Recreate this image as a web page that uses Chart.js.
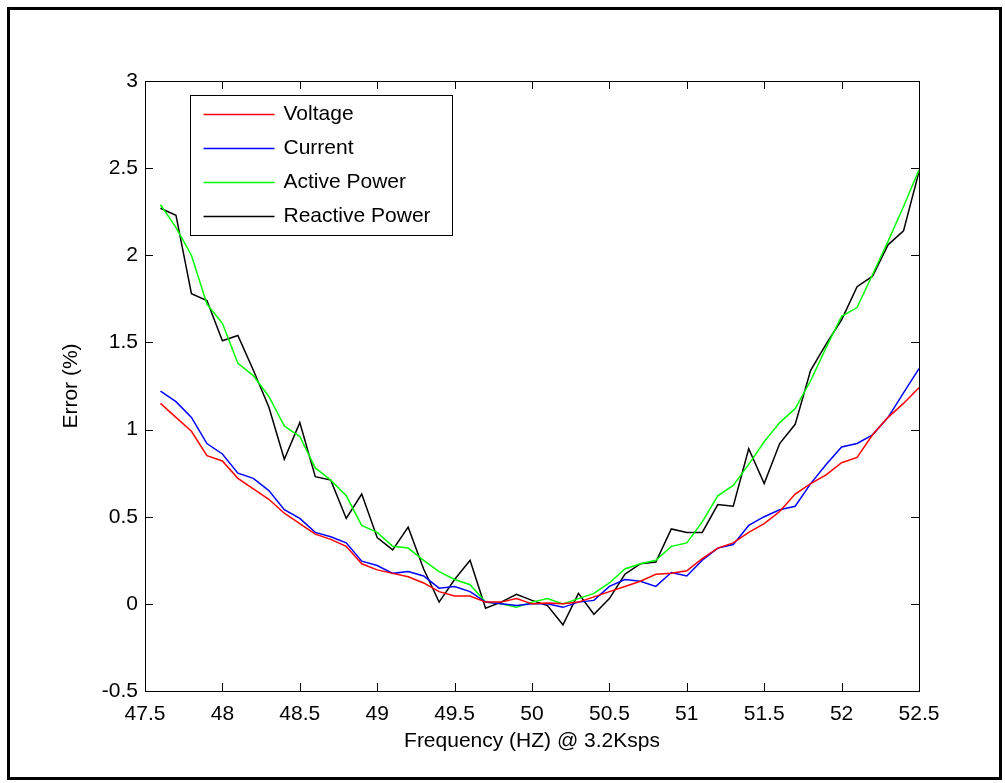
<!DOCTYPE html>
<html>
<head>
<meta charset="utf-8">
<title>Frequency error</title>
<script src="https://cdn.jsdelivr.net/npm/chart.js@4/dist/chart.umd.min.js"></script>
<style>
  html, body { margin: 0; padding: 0; background: #fff; }
  #wrap { width: 1005px; height: 783px; position: relative; }
</style>
</head>
<body>
<div id="wrap"><canvas id="errChart" width="1005" height="783"></canvas></div>
<script>
/* ============================================================
   Error (%) vs grid frequency, sampled at 3.2 ksps
   ============================================================ */

const freq = [
  47.6, 47.7, 47.8, 47.9,
  48.0, 48.1, 48.2, 48.3, 48.4, 48.5, 48.6, 48.7, 48.8, 48.9,
  49.0, 49.1, 49.2, 49.3, 49.4, 49.5, 49.6, 49.7, 49.8, 49.9,
  50.0, 50.1, 50.2, 50.3, 50.4, 50.5, 50.6, 50.7, 50.8, 50.9,
  51.0, 51.1, 51.2, 51.3, 51.4, 51.5, 51.6, 51.7, 51.8, 51.9,
  52.0, 52.1, 52.2, 52.3, 52.4, 52.5
];

const voltageErr = [
  1.15, 1.07, 0.99, 0.85,
  0.82, 0.72, 0.66, 0.60, 0.52, 0.46, 0.40, 0.37, 0.33, 0.23,
  0.195, 0.175, 0.155, 0.12, 0.07, 0.045, 0.045, 0.01, 0.01, 0.03,
  0.00, 0.005, 0.00, 0.01, 0.04, 0.07, 0.10, 0.13, 0.17, 0.175,
  0.19, 0.26, 0.32, 0.35, 0.41, 0.46, 0.53, 0.63, 0.69, 0.74,
  0.81, 0.84, 0.97, 1.07, 1.15, 1.24
];

const currentErr = [
  1.22, 1.16, 1.07, 0.92,
  0.86, 0.75, 0.72, 0.65, 0.54, 0.49, 0.41, 0.385, 0.35, 0.245,
  0.22, 0.175, 0.185, 0.16, 0.09, 0.10, 0.07, 0.01, 0.00, -0.01,
  0.00, 0.00, -0.02, 0.01, 0.02, 0.10, 0.14, 0.13, 0.10, 0.18,
  0.16, 0.25, 0.32, 0.34, 0.45, 0.50, 0.54, 0.56, 0.69, 0.80,
  0.90, 0.92, 0.97, 1.07, 1.21, 1.35
];

const activeErr = [
  2.29, 2.16, 2.00, 1.72,
  1.61, 1.38, 1.31, 1.19, 1.02, 0.96, 0.78, 0.71, 0.62, 0.45,
  0.41, 0.33, 0.32, 0.25, 0.185, 0.14, 0.11, 0.01, 0.00, -0.02,
  0.01, 0.03, 0.00, 0.03, 0.06, 0.12, 0.20, 0.23, 0.25, 0.33,
  0.35, 0.47, 0.62, 0.68, 0.80, 0.93, 1.04, 1.12, 1.28, 1.47,
  1.65, 1.70, 1.89, 2.08, 2.28, 2.49
];

const reactiveErr = [
  2.27, 2.23, 1.78, 1.74,
  1.51, 1.54, 1.34, 1.13, 0.83, 1.04, 0.73, 0.71, 0.49, 0.63,
  0.38, 0.31, 0.44, 0.20, 0.01, 0.14, 0.25, -0.025, 0.01, 0.055,
  0.02, -0.01, -0.12, 0.06, -0.06, 0.03, 0.17, 0.23, 0.24, 0.43,
  0.41, 0.41, 0.57, 0.56, 0.89, 0.69, 0.92, 1.03, 1.34, 1.49,
  1.63, 1.82, 1.88, 2.06, 2.14, 2.48
];

const xTicks = [47.5, 48, 48.5, 49, 49.5, 50, 50.5, 51, 51.5, 52, 52.5];
const yTicks = [-0.5, 0, 0.5, 1, 1.5, 2, 2.5, 3];

const FONT = 'Liberation Sans, Arial, sans-serif';

const pairs = ys => freq.map((f, i) => ({ x: f, y: ys[i] }));

const series = [
  { label: 'Voltage',        data: voltageErr,  color: '#ff0000' },
  { label: 'Current',        data: currentErr,  color: '#0000ff' },
  { label: 'Active Power',   data: activeErr,   color: '#00ff00' },
  { label: 'Reactive Power', data: reactiveErr, color: '#000000' },
];

// outer figure frame, axes box with inward ticks on all four sides
const boxPlugin = {
  id: 'box',
  beforeDraw(chart) {
    const { ctx, width, height } = chart;
    ctx.save();
    ctx.fillStyle = '#fff';
    ctx.fillRect(0, 0, width, height);
    ctx.strokeStyle = '#000';
    ctx.lineWidth = 3;
    ctx.strokeRect(8.5, 8.5, width - 13, height - 13);
    ctx.restore();
  },
  afterDraw(chart) {
    const { ctx, chartArea: a, scales } = chart;
    const len = 8;
    ctx.save();
    ctx.strokeStyle = '#000';
    ctx.lineWidth = 1;
    ctx.beginPath();
    scales.x.ticks.forEach(t => {
      const px = Math.round(scales.x.getPixelForValue(t.value)) + 0.5;
      ctx.moveTo(px, a.bottom); ctx.lineTo(px, a.bottom - len);
      ctx.moveTo(px, a.top);    ctx.lineTo(px, a.top + len);
    });
    scales.y.ticks.forEach(t => {
      const py = Math.round(scales.y.getPixelForValue(t.value)) + 0.5;
      ctx.moveTo(a.left, py);  ctx.lineTo(a.left + len, py);
      ctx.moveTo(a.right, py); ctx.lineTo(a.right - len, py);
    });
    ctx.stroke();
    ctx.strokeRect(Math.round(a.left) + 0.5, Math.round(a.top) + 0.5,
                   Math.round(a.right - a.left), Math.round(a.bottom - a.top));
    ctx.restore();
  }
};

// legend box in the upper left of the axes
const legendPlugin = {
  id: 'boxLegend',
  afterDatasetsDraw(chart) {
    const { ctx, chartArea: a } = chart;
    const bx = Math.round(a.left + 45) + 0.5, by = Math.round(a.top + 14) + 0.5;
    const bw = 262, bh = 140, rowH = 34;
    ctx.save();
    ctx.fillStyle = '#fff';
    ctx.fillRect(bx, by, bw, bh);
    ctx.strokeStyle = '#000';
    ctx.lineWidth = 1;
    ctx.strokeRect(bx, by, bw, bh);
    ctx.font = '21px ' + FONT;
    ctx.textBaseline = 'middle';
    chart.data.datasets.forEach((ds, i) => {
      const y = by + 19 + i * rowH;
      ctx.strokeStyle = ds.borderColor;
      ctx.lineWidth = 1.5;
      ctx.beginPath();
      ctx.moveTo(bx + 13, y); ctx.lineTo(bx + 84, y);
      ctx.stroke();
      ctx.fillStyle = '#000';
      ctx.fillText(ds.label, bx + 93, y);
    });
    ctx.restore();
  }
};

const fmtTick = v => String(Math.round(v * 10) / 10);

new Chart(document.getElementById('errChart'), {
  type: 'line',
  data: {
    datasets: series.map(s => ({
      label: s.label,
      data: pairs(s.data),
      borderColor: s.color,
      backgroundColor: s.color,
      borderWidth: 1.5,
      pointRadius: 0,
      tension: 0,
      fill: false,
    }))
  },
  options: {
    responsive: false,
    animation: false,
    devicePixelRatio: 1,
    layout: { padding: { left: 10, top: 81, right: 86, bottom: 20 } },
    plugins: { legend: { display: false }, tooltip: { enabled: false } },
    scales: {
      x: {
        type: 'linear',
        min: 47.5, max: 52.5,
        afterBuildTicks: sc => { sc.ticks = xTicks.map(v => ({ value: v })); },
        afterFit: sc => { sc.height = 72; },
        grid: { display: false, drawTicks: false },
        border: { display: false },
        ticks: { color: '#000', padding: 11, maxRotation: 0, autoSkip: false,
                 font: { family: FONT, size: 21 }, callback: fmtTick },
        title: { display: true, text: 'Frequency (HZ) @ 3.2Ksps', color: '#000',
                 font: { family: FONT, size: 21 }, padding: { top: 0, bottom: 9 } }
      },
      y: {
        min: -0.5, max: 3,
        afterBuildTicks: sc => { sc.ticks = yTicks.map(v => ({ value: v })); },
        afterFit: sc => { sc.width = 135; },
        grid: { display: false, drawTicks: false },
        border: { display: false },
        ticks: { color: '#000', padding: 7, autoSkip: false,
                 font: { family: FONT, size: 21 }, callback: fmtTick },
        title: { display: true, text: 'Error (%)', color: '#000',
                 font: { family: FONT, size: 21 }, padding: { top: 49, bottom: 0 } }
      }
    }
  },
  plugins: [boxPlugin, legendPlugin]
});
</script>
</body>
</html>
